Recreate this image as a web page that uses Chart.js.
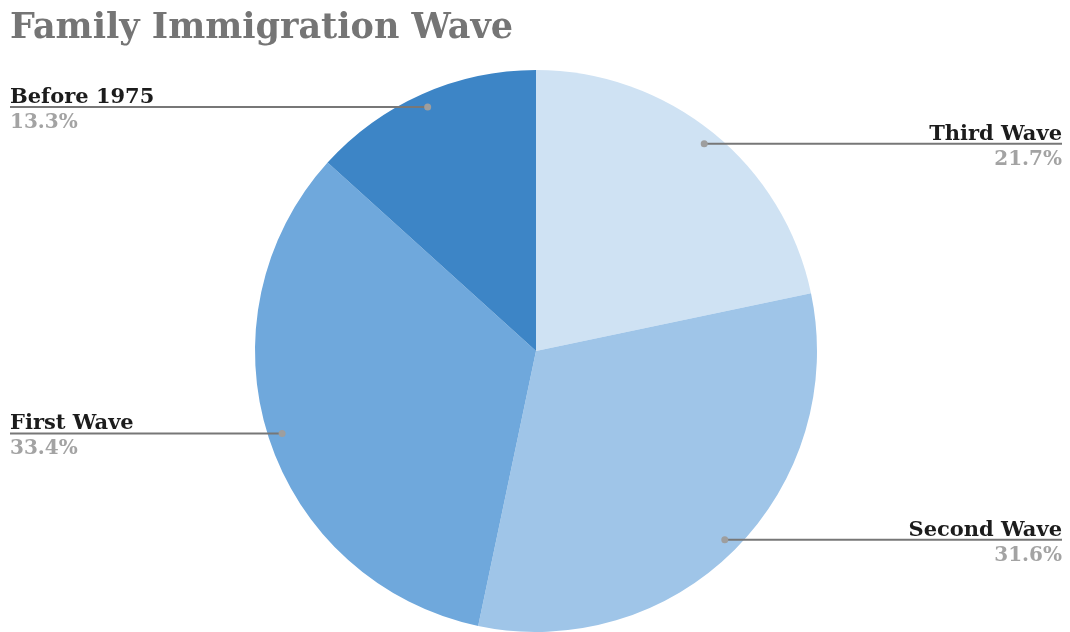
<!DOCTYPE html>
<html lang="en">
  <head>
    <meta charset="UTF-8" />
    <title>Family Immigration Wave</title>
    <script src="https://cdn.jsdelivr.net/npm/chart.js"></script>
    <style>
      html, body { margin: 0; padding: 0; background: #fff; }
      #wrap { width: 1070px; height: 632px; }
    </style>
  </head>
  <body>
    <div id="wrap">
      <canvas id="waves"></canvas>
    </div>
    <script>
      const labels = ["Third Wave", "Second Wave", "First Wave", "Before 1975"];
      const shares = [21.7, 31.6, 33.4, 13.3];
      const sliceColors = ["#cfe2f3", "#9fc5e8", "#6fa8dc", "#3d85c6"];

      const SERIF = "'DejaVu Serif', 'Liberation Serif', serif";

      // title + leader-line labels drawn on top of the pie
      const calloutPlugin = {
        id: "callouts",
        afterDraw(chart) {
          const ctx = chart.ctx;
          const W = chart.width;
          ctx.save();

          ctx.font = "bold 35px " + SERIF;
          ctx.fillStyle = "#757575";
          ctx.textAlign = "left";
          ctx.textBaseline = "alphabetic";
          ctx.fillText("Family Immigration Wave", 10, 38);

          const meta = chart.getDatasetMeta(0);
          meta.data.forEach((arc, i) => {
            const { x, y, startAngle, endAngle, outerRadius } = arc.getProps(
              ["x", "y", "startAngle", "endAngle", "outerRadius"],
              true
            );
            const mid = (startAngle + endAngle) / 2;
            const px = x + Math.cos(mid) * outerRadius * 0.95;
            const py = y + Math.sin(mid) * outerRadius * 0.95;
            const right = Math.cos(mid) >= 0;
            const edge = right ? W - 8 : 10;

            ctx.strokeStyle = "#777";
            ctx.lineWidth = 2;
            ctx.beginPath();
            ctx.moveTo(px, py);
            ctx.lineTo(edge, py);
            ctx.stroke();

            ctx.fillStyle = "#9e9e9e";
            ctx.beginPath();
            ctx.arc(px, py, 3.5, 0, Math.PI * 2);
            ctx.fill();

            ctx.textAlign = right ? "right" : "left";
            ctx.font = "bold 21px " + SERIF;
            ctx.fillStyle = "#1c1c1c";
            ctx.fillText(labels[i], edge, py - 4);
            ctx.font = "bold 20px " + SERIF;
            ctx.fillStyle = "#a3a3a3";
            ctx.fillText(shares[i].toFixed(1) + "%", edge, py + 21);
          });
          ctx.restore();
        },
      };

      new Chart(document.getElementById("waves"), {
        type: "pie",
        data: {
          labels: labels,
          datasets: [
            {
              data: shares,
              backgroundColor: sliceColors,
              borderWidth: 0,
            },
          ],
        },
        options: {
          responsive: true,
          maintainAspectRatio: false,
          animation: false,
          layout: { padding: { top: 70, left: 2, right: 0, bottom: 0 } },
          plugins: {
            legend: { display: false },
            tooltip: { enabled: false },
          },
        },
        plugins: [calloutPlugin],
      });
    </script>
  </body>
</html>
